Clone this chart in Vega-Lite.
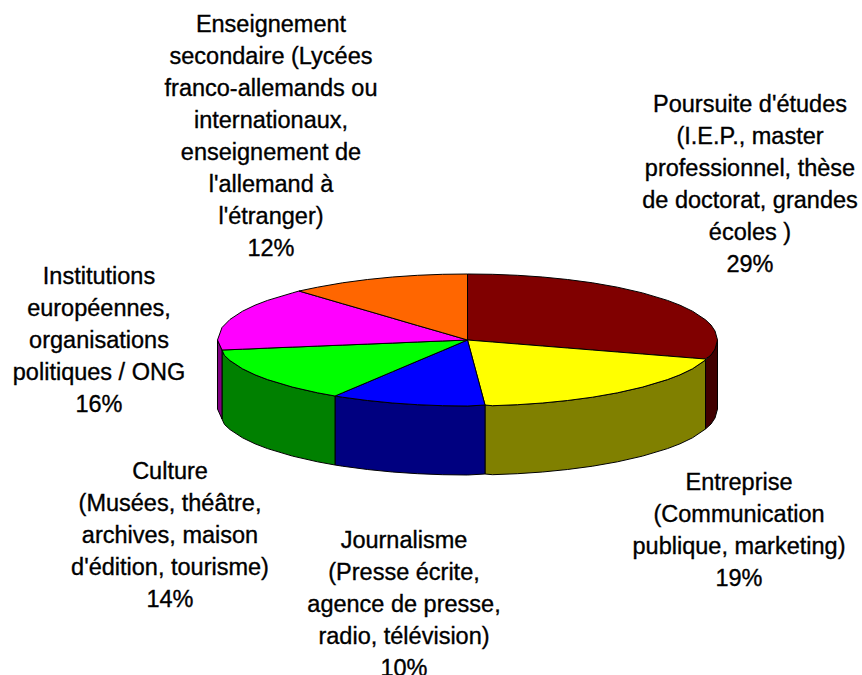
{"$schema":"https://vega.github.io/schema/vega-lite/v6.json","width":862,"height":675,"padding":0,"autosize":{"type":"none","contains":"padding"},"background":"white","view":{"stroke":null},
"datasets":{
"faces":[
{"part":"side-poursuite","x":705.5,"y":360,"y2":429},{"part":"side-poursuite","x":711,"y":355,"y2":424},{"part":"side-poursuite","x":715,"y":349,"y2":418},{"part":"side-poursuite","x":717.5,"y":340,"y2":409},
{"part":"side-entreprise","x":485,"y":405,"y2":474},{"part":"side-entreprise","x":492.5,"y":405.7,"y2":474.7},{"part":"side-entreprise","x":517.5,"y":404.7,"y2":473.7},{"part":"side-entreprise","x":542.5,"y":403,"y2":472},{"part":"side-entreprise","x":567.5,"y":400.5,"y2":469.5},{"part":"side-entreprise","x":592.5,"y":397.2,"y2":466.2},{"part":"side-entreprise","x":617.5,"y":392.8,"y2":461.8},{"part":"side-entreprise","x":642.5,"y":387.1,"y2":456.1},{"part":"side-entreprise","x":667.5,"y":379.6,"y2":448.6},{"part":"side-entreprise","x":680,"y":374.8,"y2":443.8},{"part":"side-entreprise","x":692.5,"y":368.8,"y2":437.8},{"part":"side-entreprise","x":705.5,"y":360,"y2":429},
{"part":"side-journalisme","x":335,"y":396,"y2":465},{"part":"side-journalisme","x":342.5,"y":397.2,"y2":466.2},{"part":"side-journalisme","x":367.5,"y":400.5,"y2":469.5},{"part":"side-journalisme","x":392.5,"y":403,"y2":472},{"part":"side-journalisme","x":417.5,"y":404.7,"y2":473.7},{"part":"side-journalisme","x":442.5,"y":405.7,"y2":474.7},{"part":"side-journalisme","x":467.5,"y":406,"y2":475},{"part":"side-journalisme","x":485,"y":405,"y2":474},
{"part":"side-culture","x":222,"y":350,"y2":419},{"part":"side-culture","x":224.5,"y":355.5,"y2":424.5},{"part":"side-culture","x":230,"y":360.6,"y2":429.6},{"part":"side-culture","x":242.5,"y":368.8,"y2":437.8},{"part":"side-culture","x":255,"y":374.8,"y2":443.8},{"part":"side-culture","x":267.5,"y":379.6,"y2":448.6},{"part":"side-culture","x":292.5,"y":387.1,"y2":456.1},{"part":"side-culture","x":317.5,"y":392.8,"y2":461.8},{"part":"side-culture","x":335,"y":396,"y2":465},
{"part":"side-institutions","x":217.5,"y":340,"y2":409},{"part":"side-institutions","x":222,"y":350,"y2":419},
{"part":"poursuite","x":467.5,"y":274,"y2":340},{"part":"poursuite","x":492.5,"y":274.3,"y2":342},{"part":"poursuite","x":517.5,"y":275.3,"y2":344},{"part":"poursuite","x":542.5,"y":277,"y2":346},{"part":"poursuite","x":567.5,"y":279.5,"y2":348},{"part":"poursuite","x":592.5,"y":282.8,"y2":350},{"part":"poursuite","x":617.5,"y":287.2,"y2":352},{"part":"poursuite","x":642.5,"y":292.9,"y2":354},{"part":"poursuite","x":667.5,"y":300.4,"y2":356},{"part":"poursuite","x":680,"y":305.2,"y2":357},{"part":"poursuite","x":692.5,"y":311.2,"y2":358},{"part":"poursuite","x":705.5,"y":319.8,"y2":359},{"part":"poursuite","x":711,"y":325,"y2":355},{"part":"poursuite","x":715,"y":331,"y2":349},{"part":"poursuite","x":717.5,"y":340,"y2":340},
{"part":"entreprise","x":467.5,"y":340,"y2":340},{"part":"entreprise","x":485,"y":341.4,"y2":405},{"part":"entreprise","x":492.5,"y":342,"y2":405.7},{"part":"entreprise","x":517.5,"y":344,"y2":404.7},{"part":"entreprise","x":542.5,"y":346,"y2":403},{"part":"entreprise","x":567.5,"y":348,"y2":400.5},{"part":"entreprise","x":592.5,"y":350,"y2":397.2},{"part":"entreprise","x":617.5,"y":352,"y2":392.8},{"part":"entreprise","x":642.5,"y":354,"y2":387.1},{"part":"entreprise","x":667.5,"y":356,"y2":379.6},{"part":"entreprise","x":680,"y":357,"y2":374.8},{"part":"entreprise","x":692.5,"y":358,"y2":368.8},{"part":"entreprise","x":705.5,"y":359,"y2":360},
{"part":"journalisme","x":335,"y":396,"y2":396},{"part":"journalisme","x":342.5,"y":392.8,"y2":397.2},{"part":"journalisme","x":367.5,"y":382.3,"y2":400.5},{"part":"journalisme","x":392.5,"y":371.7,"y2":403},{"part":"journalisme","x":417.5,"y":361.1,"y2":404.7},{"part":"journalisme","x":442.5,"y":350.6,"y2":405.7},{"part":"journalisme","x":467.5,"y":340,"y2":406},{"part":"journalisme","x":485,"y":405,"y2":405},
{"part":"culture","x":222,"y":350,"y2":350},{"part":"culture","x":224.5,"y":349.9,"y2":355.5},{"part":"culture","x":230,"y":349.7,"y2":360.6},{"part":"culture","x":242.5,"y":349.2,"y2":368.8},{"part":"culture","x":255,"y":348.7,"y2":374.8},{"part":"culture","x":267.5,"y":348.1,"y2":379.6},{"part":"culture","x":292.5,"y":347.1,"y2":387.1},{"part":"culture","x":317.5,"y":346.1,"y2":392.8},{"part":"culture","x":335,"y":345.4,"y2":396},{"part":"culture","x":342.5,"y":345.1,"y2":392.8},{"part":"culture","x":367.5,"y":344.1,"y2":382.3},{"part":"culture","x":392.5,"y":343.1,"y2":371.7},{"part":"culture","x":417.5,"y":342,"y2":361.1},{"part":"culture","x":442.5,"y":341,"y2":350.6},{"part":"culture","x":467.5,"y":340,"y2":340},
{"part":"institutions","x":217.5,"y":340,"y2":340},{"part":"institutions","x":222,"y":327.5,"y2":350},{"part":"institutions","x":230,"y":319.4,"y2":349.7},{"part":"institutions","x":242.5,"y":311.2,"y2":349.2},{"part":"institutions","x":255,"y":305.2,"y2":348.7},{"part":"institutions","x":267.5,"y":300.4,"y2":348.1},{"part":"institutions","x":292.5,"y":292.9,"y2":347.1},{"part":"institutions","x":299,"y":291,"y2":346.9},{"part":"institutions","x":317.5,"y":296.4,"y2":346.1},{"part":"institutions","x":342.5,"y":303.7,"y2":345.1},{"part":"institutions","x":367.5,"y":310.9,"y2":344.1},{"part":"institutions","x":392.5,"y":318.2,"y2":343.1},{"part":"institutions","x":417.5,"y":325.5,"y2":342},{"part":"institutions","x":442.5,"y":332.7,"y2":341},{"part":"institutions","x":467.5,"y":340,"y2":340},
{"part":"enseignement","x":299,"y":291,"y2":291},{"part":"enseignement","x":317.5,"y":287.2,"y2":296.4},{"part":"enseignement","x":342.5,"y":282.8,"y2":303.7},{"part":"enseignement","x":367.5,"y":279.5,"y2":310.9},{"part":"enseignement","x":392.5,"y":277,"y2":318.2},{"part":"enseignement","x":417.5,"y":275.3,"y2":325.5},{"part":"enseignement","x":442.5,"y":274.3,"y2":332.7},{"part":"enseignement","x":467.5,"y":274,"y2":340}
],
"labels":[
{"label":"Enseignement\nsecondaire (Lycées\nfranco-allemands ou\ninternationaux,\nenseignement de\nl'allemand à\nl'étranger)\n12%","x":271,"y":25},
{"label":"Poursuite d'études\n(I.E.P., master\nprofessionnel, thèse\nde doctorat, grandes\nécoles )\n29%","x":750,"y":105},
{"label":"Institutions\neuropéennes,\norganisations\npolitiques / ONG\n16%","x":99,"y":277},
{"label":"Culture\n(Musées, théâtre,\narchives, maison\nd'édition, tourisme)\n14%","x":170,"y":472},
{"label":"Journalisme\n (Presse écrite,\nagence de presse,\nradio, télévision)\n10%","x":404,"y":541},
{"label":"Entreprise\n(Communication\npublique, marketing)\n19%","x":739,"y":483}
]},
"layer":[
{"data":{"name":"faces"},"mark":{"type":"area","stroke":"#000000","strokeWidth":1,"strokeJoin":"miter","interpolate":"linear"},
"encoding":{"x":{"field":"x","type":"quantitative","scale":{"domain":[0,862],"nice":false,"zero":false},"axis":null},
"y":{"field":"y","type":"quantitative","stack":null,"scale":{"domain":[675,0],"nice":false,"zero":false},"axis":null},
"y2":{"field":"y2"},
"color":{"field":"part","type":"nominal","legend":null,"sort":null,"scale":{"domain":["side-poursuite","side-entreprise","side-journalisme","side-culture","side-institutions","poursuite","entreprise","journalisme","culture","institutions","enseignement"],"range":["#400000","#808000","#000080","#008000","#800080","#800000","#ffff00","#0000ff","#00ff00","#ff00ff","#ff6600"]}}}},
{"data":{"name":"labels"},"mark":{"type":"text","font":"Liberation Sans","fontSize":23.5,"lineHeight":32,"lineBreak":"\n","align":"center","baseline":"middle","color":"#000000","stroke":"#000000","strokeWidth":0.35},
"encoding":{"x":{"field":"x","type":"quantitative","scale":{"domain":[0,862],"nice":false,"zero":false},"axis":null},
"y":{"field":"y","type":"quantitative","scale":{"domain":[675,0],"nice":false,"zero":false},"axis":null},
"text":{"field":"label","type":"nominal"}}}
]}
